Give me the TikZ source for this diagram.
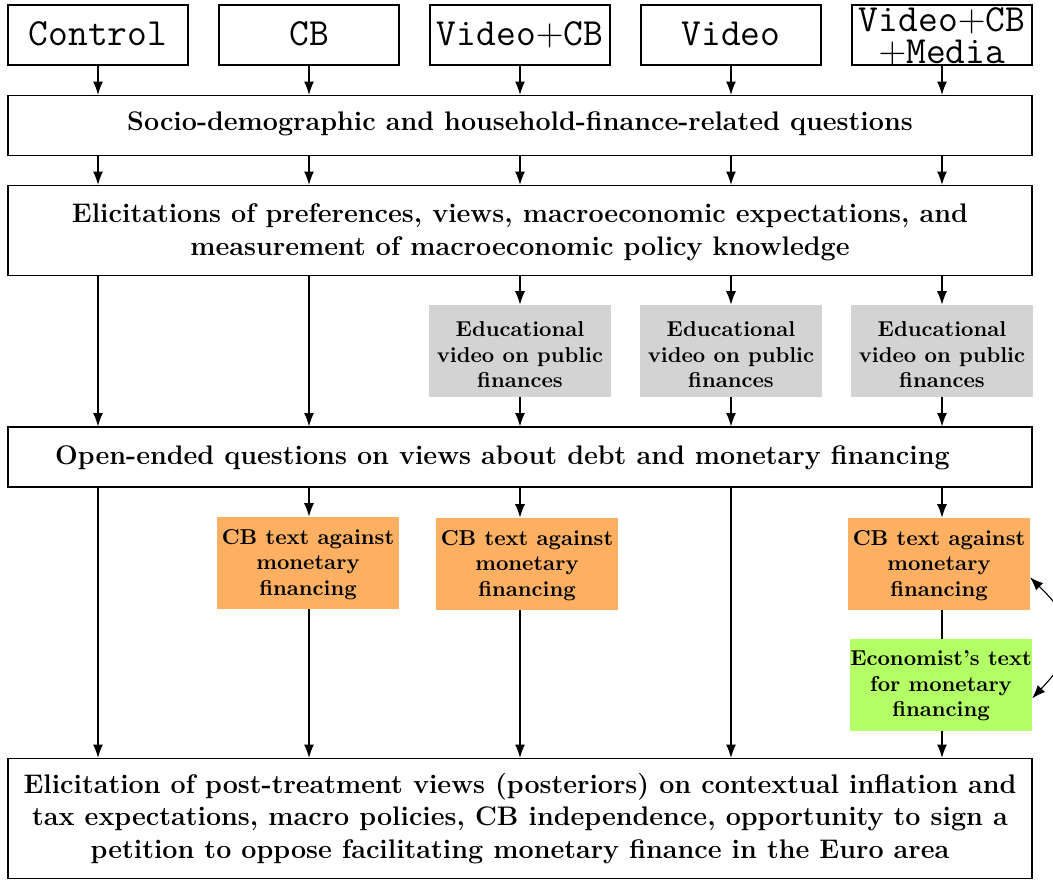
\documentclass[tikz,border=0pt]{standalone}
\usetikzlibrary{arrows.meta}
\definecolor{boxgray}{RGB}{211,211,211}
\definecolor{boxorange}{RGB}{253,176,97}
\definecolor{boxgreen}{RGB}{179,255,102}
% #1 = depth of first baseline below node centre, #2 = baseline skip, #3 = lines separated by \cr
\newcommand\mlines[3]{\raisebox{-#1}[0pt][0pt]{\vtop{\baselineskip=#2\relax\lineskiplimit=-\maxdimen\halign{\hfil##\hfil\cr#3\crcr}}}}
\newcommand\bline[2]{\raisebox{-#1}[0pt][0pt]{#2}}
\begin{document}
\begin{tikzpicture}[x=0.45pt,y=-0.45pt,
  arr/.style={-{Latex[length=6pt,width=4.5pt]},line width=0.5pt},
  dblarr/.style={{Latex[length=6pt,width=4.5pt]}-{Latex[length=6pt,width=4.5pt]},line width=0.5pt},
  plain/.style={line width=0.5pt},
  topbox/.style={draw,line width=0.6pt,minimum width=81pt,minimum height=27pt,inner sep=0pt,font=\fontsize{17.28}{14.5}\selectfont\ttfamily},
  widebox/.style={draw,line width=0.6pt,minimum width=460.8pt,inner sep=0pt,font=\fontsize{12.1}{14.7}\selectfont\bfseries},
  smallbox/.style={minimum width=81.5pt,minimum height=41.4pt,inner sep=0pt,font=\fontsize{9.7}{11.5}\selectfont\bfseries},
]
\useasboundingbox (0,0) rectangle (1053,880);
% top row
\node[topbox] (t1) at (98,35) {\bline{4.8pt}{Control}};
\node[topbox] (t2) at (309,35) {\bline{4.8pt}{CB}};
\node[topbox] (t3) at (520,35) {\bline{4.8pt}{Video$+$CB}};
\node[topbox] (t4) at (731,35) {\bline{4.8pt}{Video}};
\node[topbox] (t5) at (942,35) {\mlines{-1.8pt}{14.5pt}{Video$+$CB\cr$+$Media}};
% wide boxes
\node[widebox,minimum height=27pt] (r2) at (520,125.5) {\bline{2.35pt}{Socio-demographic and household-finance-related questions}};
\node[widebox,minimum height=40.5pt] (r3) at (520,230.5) {\mlines{-3.4pt}{14.7pt}{Elicitations of preferences, views, macroeconomic expectations, and\cr measurement of macroeconomic policy knowledge}};
\node[widebox,minimum height=27pt] (r4) at (520,457) {\bline{3.15pt}{Open-ended questions on views about debt and monetary financing\hspace*{15.75pt}}};
\node[widebox,minimum height=54pt] (r5) at (520,818.5) {\mlines{-11.3pt}{14.6pt}{Elicitation of post-treatment views (posteriors) on contextual inflation and\cr tax expectations, macro policies, CB independence, opportunity to sign a\cr petition to oppose facilitating monetary finance in the Euro area}};
% gray boxes
\node[smallbox,fill=boxgray] (g3) at (520,351) {\mlines{-6.5pt}{11.5pt}{Educational\cr video on public\cr finances}};
\node[smallbox,fill=boxgray] (g4) at (731,351) {\mlines{-6.5pt}{11.5pt}{Educational\cr video on public\cr finances}};
\node[smallbox,fill=boxgray] (g5) at (942,351) {\mlines{-6.5pt}{11.5pt}{Educational\cr video on public\cr finances}};
% orange boxes
\node[smallbox,fill=boxorange] (o2) at (308,563) {\mlines{-8.2pt}{11.3pt}{CB text against\cr monetary\cr financing}};
\node[smallbox,fill=boxorange] (o3) at (527,564) {\mlines{-8.2pt}{11.3pt}{CB text against\cr monetary\cr financing}};
\node[smallbox,fill=boxorange] (o5) at (939,564) {\mlines{-8.2pt}{11.3pt}{CB text against\cr monetary\cr financing}};
% green box
\node[smallbox,fill=boxgreen] (e5) at (941,685) {\mlines{-8.7pt}{11.4pt}{Economist's text\cr for monetary\cr financing}};
% arrows top -> r2 -> r3
\foreach \t in {t1,t2,t3,t4,t5}{
  \draw[arr] (\t.south) -- (\t.south |- r2.north);
  \draw[arr] (\t.south |- r2.south) -- (\t.south |- r3.north);
}
% r3 -> r4
\draw[arr] (t1 |- r3.south) -- (t1 |- r4.north);
\draw[arr] (t2 |- r3.south) -- (t2 |- r4.north);
\foreach \t/\g in {t3/g3,t4/g4,t5/g5}{
  \draw[arr] (\t |- r3.south) -- (\t |- \g.north);
  \draw[arr] (\t |- \g.south) -- (\t |- r4.north);
}
% r4 -> r5
\draw[arr] (t1 |- r4.south) -- (t1 |- r5.north);
\draw[arr] (t4 |- r4.south) -- (t4 |- r5.north);
\draw[arr] (t2 |- r4.south) -- (t2 |- o2.north);
\draw[arr] (t2 |- o2.south) -- (t2 |- r5.north);
\draw[arr] (t3 |- r4.south) -- (t3 |- o3.north);
\draw[arr] (t3 |- o3.south) -- (t3 |- r5.north);
\draw[arr] (t5 |- r4.south) -- (t5 |- o5.north);
\draw[plain] (t5 |- o5.south) -- (t5 |- e5.north);
\draw[arr] (t5 |- e5.south) -- (t5 |- r5.north);
% curved double arrow
\draw[dblarr] ([yshift=-6pt]o5.east) .. controls (1080,626) and (1078,650) .. ([yshift=-6pt]e5.east);
\end{tikzpicture}
\end{document}
